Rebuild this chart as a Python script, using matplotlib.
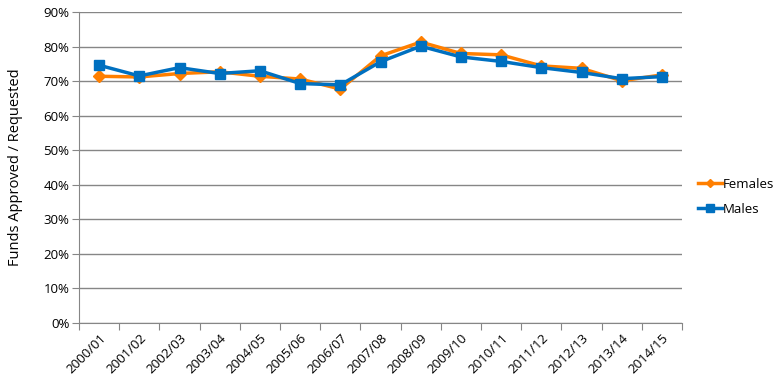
import numpy as np
import matplotlib.pyplot as plt
from matplotlib.ticker import PercentFormatter

# financial years on the category axis
years = ['2000/01', '2001/02', '2002/03', '2003/04', '2004/05', '2005/06', '2006/07',
         '2007/08', '2008/09', '2009/10', '2010/11', '2011/12', '2012/13', '2013/14', '2014/15']
# funds approved / requested, in percent
females = [71.4, 71.2, 72.2, 72.7, 71.4, 70.6, 67.7, 77.3, 81.3, 78.0, 77.6, 74.4, 73.7, 70.1, 71.8]
males = [74.6, 71.5, 73.9, 72.2, 73.0, 69.3, 68.9, 75.6, 80.1, 77.0, 75.7, 73.9, 72.5, 70.7, 71.3]

plt.rcParams['font.family'] = ['Open Sans', 'DejaVu Sans']

fig = plt.figure(figsize=(7.83, 3.84), dpi=100)
ax = fig.add_axes([79/783, 1 - 323/384, (682 - 79)/783, (323 - 12)/384])

x = np.arange(len(years))
ax.plot(x, females, color='#FF7F00', lw=2.5, marker='D', ms=6, label='Females', zorder=3)
ax.plot(x, males, color='#0070C0', lw=2.5, marker='s', ms=7.5, label='Males', zorder=4)

ax.set_xlim(-0.5, len(years) - 0.5)
ax.set_ylim(0, 90)
ax.yaxis.set_major_locator(plt.MultipleLocator(10))
ax.yaxis.set_major_formatter(PercentFormatter(decimals=0))
ax.grid(axis='y', color='#868686', lw=1)
ax.set_axisbelow(True)

# category ticks sit between the categories, labels in the middle
ax.set_xticks(np.arange(-0.5, len(years), 1.0))
ax.set_xticklabels([])
ax.set_xticks(x, minor=True)
ax.set_xticklabels(years, minor=True, rotation=45, ha='right', rotation_mode='anchor', fontsize=9.5)
ax.tick_params(axis='x', which='major', length=5, color='#868686', direction='out')
ax.tick_params(axis='x', which='minor', length=0, pad=6)
ax.tick_params(axis='y', length=5, color='#868686', labelsize=9.5, pad=2)

for s in ['top', 'right']:
    ax.spines[s].set_visible(False)
for s in ['left', 'bottom']:
    ax.spines[s].set_color('#868686')

ax.set_ylabel('Funds Approved / Requested', fontsize=10.5)
ax.yaxis.set_label_coords(-56/603, 0.5)

ax.legend(loc='center left', bbox_to_anchor=(1.0, 0.405), frameon=False, fontsize=9.5,
          handlelength=1.8, handletextpad=0.1, labelspacing=0.9, markerscale=0.7,
          borderaxespad=0.8)

fig.savefig('out.png', dpi=100)
